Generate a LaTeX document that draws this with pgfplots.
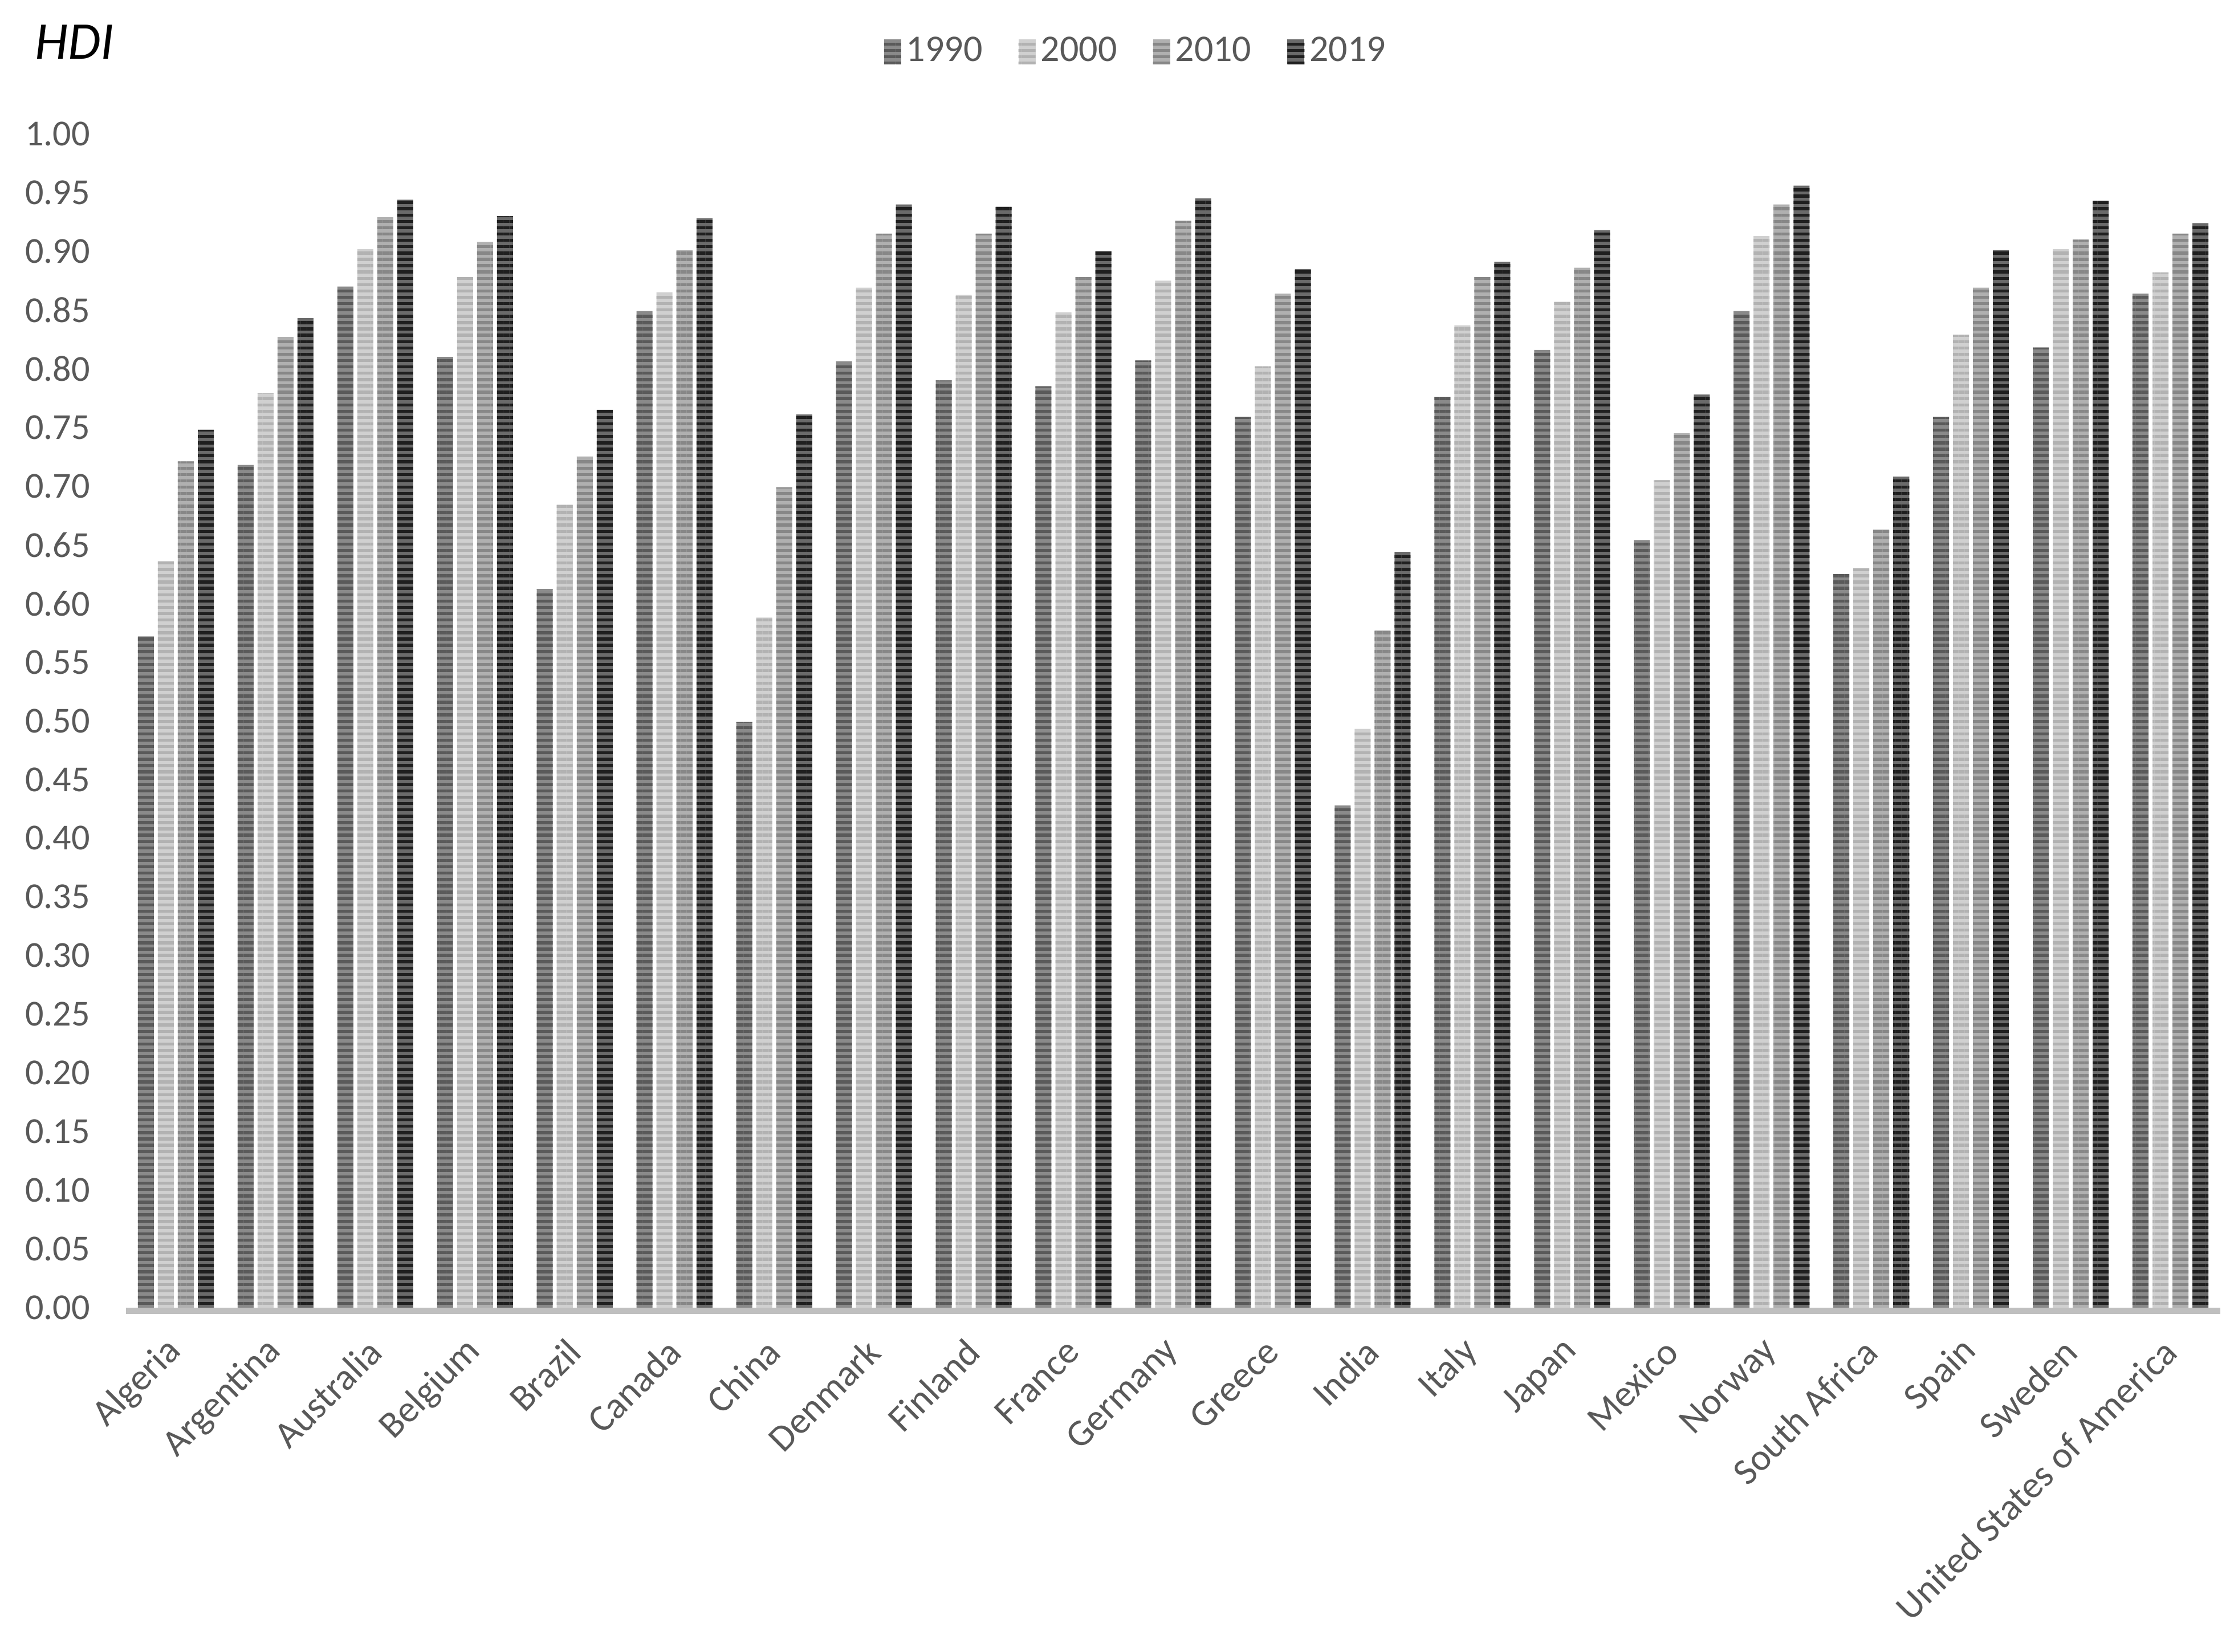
\documentclass[border=0pt]{standalone}
\usepackage{fontspec}
\setmainfont{Carlito}
\usepackage{pgfplots}
\usepackage{pgfplotstable}
\pgfplotsset{compat=1.18}
\usetikzlibrary{patterns.meta}
\definecolor{tickgray}{HTML}{595959}
\definecolor{axisgray}{HTML}{BFBFBF}
\definecolor{fA}{HTML}{8A8A8A}\definecolor{sA}{HTML}{5A5A5A}
\definecolor{fB}{HTML}{D0D0D0}\definecolor{sB}{HTML}{B2B2B2}
\definecolor{fC}{HTML}{B0B0B0}\definecolor{sC}{HTML}{878787}
\definecolor{fD}{HTML}{6A6A6A}\definecolor{sD}{HTML}{1F1F1F}
\pgfplotstableread{
x a b c d
0  0.572 0.636 0.721 0.748
1  0.718 0.779 0.827 0.843
2  0.870 0.902 0.929 0.944
3  0.810 0.878 0.908 0.930
4  0.612 0.684 0.725 0.765
5  0.849 0.865 0.901 0.928
6  0.499 0.588 0.699 0.761
7  0.806 0.869 0.915 0.940
8  0.790 0.863 0.915 0.938
9  0.785 0.848 0.878 0.900
10 0.807 0.875 0.926 0.945
11 0.759 0.802 0.864 0.885
12 0.428 0.493 0.577 0.644
13 0.776 0.837 0.878 0.891
14 0.816 0.857 0.886 0.918
15 0.654 0.705 0.745 0.778
16 0.849 0.913 0.940 0.956
17 0.625 0.630 0.663 0.708
18 0.759 0.829 0.869 0.901
19 0.818 0.902 0.910 0.943
20 0.864 0.882 0.915 0.924
}\hdi
\begin{document}
\begin{tikzpicture}
\begin{axis}[
  at={(0,0)}, anchor=south west,
  scale only axis,
  width=612.33pt, height=343.17pt,
  xmin=-0.5, xmax=20.5, ymin=0, ymax=1,
  ybar=1.17pt, bar width=4.67pt,
  axis line style={draw=none},
  major tick length=0pt,
  xtick={0,...,20},
  xticklabels={Algeria,Argentina,Australia,Belgium,Brazil,Canada,China,Denmark,Finland,France,Germany,Greece,India,Italy,Japan,Mexico,Norway,South Africa,Spain,Sweden,United States of America},
  xticklabel style={font=\fontsize{11}{13}\selectfont, text=tickgray, inner sep=0pt, yshift=-11pt, rotate=45, anchor=east},
  ytick={0,0.05,0.10,0.15,0.20,0.25,0.30,0.35,0.40,0.45,0.50,0.55,0.60,0.65,0.70,0.75,0.80,0.85,0.90,0.95,1.00},
  yticklabel={\pgfmathprintnumber[fixed,fixed zerofill,precision=2,assume math mode=true]{\tick}},
  yticklabel style={font=\fontsize{10.7}{12}\selectfont, text=tickgray, inner sep=0pt, anchor=east, xshift=-10.3pt},
  legend columns=4,
  legend style={at={(0.483,1.07)}, anchor=center, draw=none, fill=none,
    font=\fontsize{11}{13}\selectfont, text=tickgray,
    /tikz/every even column/.append style={column sep=9pt},
    nodes={inner sep=1.5pt}},
  legend image code/.code={\path[#1] (0pt,-3.6pt) rectangle (5pt,3.6pt);},
  clip=false,
]
\addplot[draw=none, fill=fA, postaction={pattern={Lines[angle=0,distance=1.85pt,line width=0.9pt]}, pattern color=sA}] table[x=x,y=a]{\hdi};
\addplot[draw=none, fill=fB, postaction={pattern={Lines[angle=0,distance=1.85pt,line width=0.9pt]}, pattern color=sB}] table[x=x,y=b]{\hdi};
\addplot[draw=none, fill=fC, postaction={pattern={Lines[angle=0,distance=1.85pt,line width=0.9pt]}, pattern color=sC}] table[x=x,y=c]{\hdi};
\addplot[draw=none, fill=fD, postaction={pattern={Lines[angle=0,distance=1.85pt,line width=0.9pt]}, pattern color=sD}] table[x=x,y=d]{\hdi};
\legend{1990,2000,2010,2019}
\draw[axisgray, line width=1.8pt] ([yshift=-0.9pt]rel axis cs:0,0) -- ([yshift=-0.9pt]rel axis cs:1,0);
\end{axis}
\node[anchor=base west, inner sep=0pt, font=\fontsize{15.5}{18}\selectfont\itshape] at (-26.8pt,365pt) {HDI};
\pgfresetboundingbox
\path[use as bounding box] (-36.83pt,-100.5pt) rectangle (616.33pt,382.33pt);
\end{tikzpicture}
\end{document}
